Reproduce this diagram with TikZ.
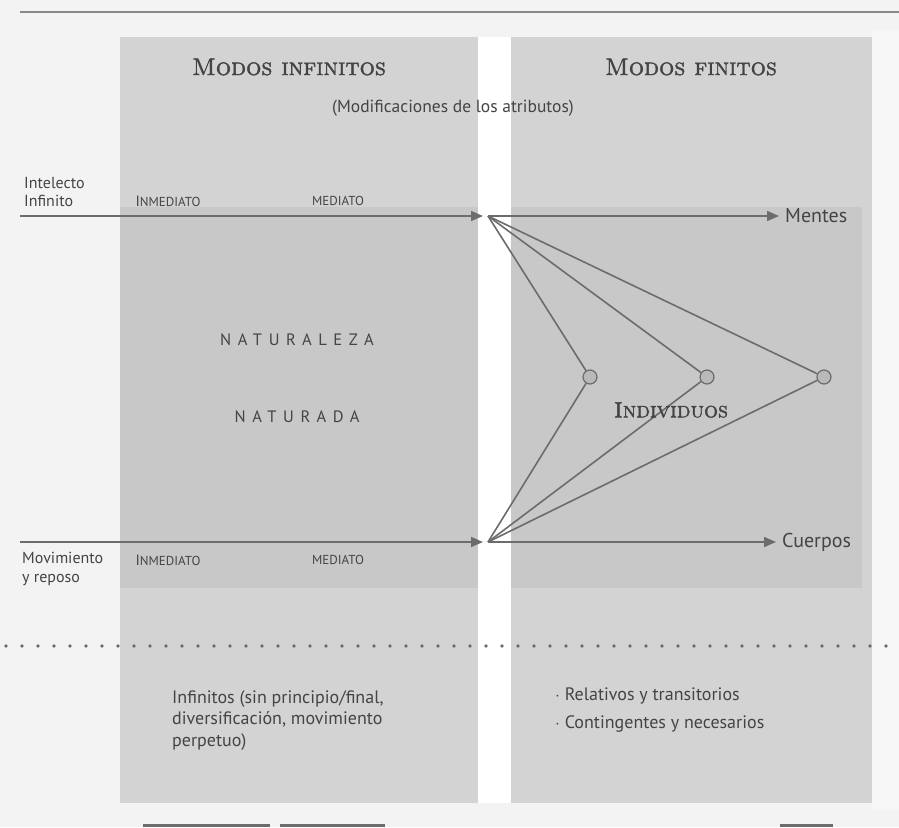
\documentclass[tikz,border=0pt]{standalone}
\usepackage{fontspec}
\setsansfont{PT Sans}
\newfontfamily\capsfont{lmromancaps10-regular.otf}[FakeBold=1.6]
\usetikzlibrary{arrows.meta}
\definecolor{paper}{RGB}{243,243,243}
\definecolor{panel}{RGB}{211,211,211}
\definecolor{weave}{RGB}{200,200,200}
\definecolor{ink}{RGB}{68,68,68}
\definecolor{wire}{RGB}{108,108,108}
\newcommand{\fsz}[2]{\fontsize{#1}{#2}\selectfont}
\begin{document}
\begin{tikzpicture}[x=1pt, y=-1pt,
            txt/.style={inner sep=0pt, text=ink, font=\sffamily\fsz{17}{20}},
            side/.style={txt, anchor=west, align=left, font=\sffamily\fsz{16}{18.5}},
            modo/.style={inner sep=0pt, text=ink, font=\capsfont\fsz{24}{26}},
            phase/.style={txt, font=\sffamily\fsz{15}{16}},
            flow/.style={draw=wire, line width=1.6pt, -{Triangle[length=12pt, width=10pt]}},
            link/.style={draw=wire, line width=1.6pt},
            indiv/.style={circle, draw=wire, fill=gray!55, line width=1.2pt, minimum size=14pt, inner sep=0pt}
        ]
            \useasboundingbox (0,0) rectangle (899,827);
            \fill[paper] (0,0) rectangle (899,827);
            \fill[white] (478,37) rectangle (511,803);
            \fill[white!97!black] (872,30) rectangle (899,810);
            \fill[panel] (120,37) rectangle (478,803);
            \fill[panel] (511,37) rectangle (872,803);
            \fill[weave] (120,207) rectangle (478,588);
            \fill[weave] (511,207) rectangle (862,588);

            \draw[wire!80, line width=2pt] (20,12) -- (899,12);
            \draw[wire, line width=3pt] (143,825) -- (270,825);
            \draw[wire, line width=3pt] (280,825) -- (385,825);
            \draw[wire, line width=3pt] (780,825) -- (833,825);

            \node[modo] (infinitos) at (289,67) {Modos infinitos};
            \node[modo] (finitos) at (691,67) {Modos finitos};
            \node[txt, font=\sffamily\fsz{17.5}{20}] (modif) at (453,108) {(Modificaciones de los atributos)};

            \node[side] (intelecto) at (24,192) {Intelecto\\Infinito};
            \node[phase] (inmT) at (168,201) {I{\fsz{13}{16}NMEDIATO}};
            \node[phase] (medT) at (338,201) {{\fsz{13}{16}MEDIATO}};
            \coordinate (inT) at (20,216);
            \coordinate (hubT) at (488,216);
            \node[txt, anchor=west, font=\sffamily\fsz{20}{22}] (mentes) at (785,216) {Mentes};
            \draw[flow, shorten >=5pt] (inT) -- (hubT);
            \draw[flow, shorten >=6pt] (hubT) -- (mentes.west);

            \node[side] (movim) at (22,569) {Movimiento\\y reposo};
            \node[phase] (inmB) at (168,560) {I{\fsz{13}{16}NMEDIATO}};
            \node[phase] (medB) at (338,560) {{\fsz{13}{16}MEDIATO}};
            \coordinate (inB) at (20,542);
            \coordinate (hubB) at (488,542);
            \node[txt, anchor=west, font=\sffamily\fsz{20}{22}] (cuerpos) at (782,542) {Cuerpos};
            \draw[flow, shorten >=5pt] (inB) -- (hubB);
            \draw[flow, shorten >=6pt] (hubB) -- (cuerpos.west);

            \node[txt, font=\sffamily\fsz{16.5}{20}\addfontfeature{LetterSpace=40}] (natza) at (297,340) {NATURALEZA};
            \node[txt, font=\sffamily\fsz{16.5}{20}\addfontfeature{LetterSpace=40}] (natda) at (297,417) {NATURADA};

            \node[indiv] (ind1) at (590,377) {};
            \node[indiv] (ind2) at (707,377) {};
            \node[indiv] (ind3) at (824,377) {};
            \draw[link] (hubT) -- (ind1) -- (hubB);
            \draw[link] (hubT) -- (ind2) -- (hubB);
            \draw[link] (hubT) -- (ind3) -- (hubB);
            \node[modo, font=\capsfont\fsz{22}{24}] (individuos) at (671,410) {Individuos};

            \draw[wire, line width=3.8pt, line cap=round, dash pattern=on 0pt off 16pt] (6,646) -- (899,646);

            \node[txt, anchor=north west, align=left, font=\sffamily\fsz{18}{21.5}] (infprop) at (172,690)
                {Infinitos (sin principio/final,\\diversificación, movimiento\\perpetuo)};
            \node[txt, anchor=north west, align=left, font=\sffamily\fsz{18}{28}] (finprop) at (555,688)
                {$\cdot$ Relativos y transitorios\\$\cdot$ Contingentes y necesarios};
        \end{tikzpicture}
\end{document}
